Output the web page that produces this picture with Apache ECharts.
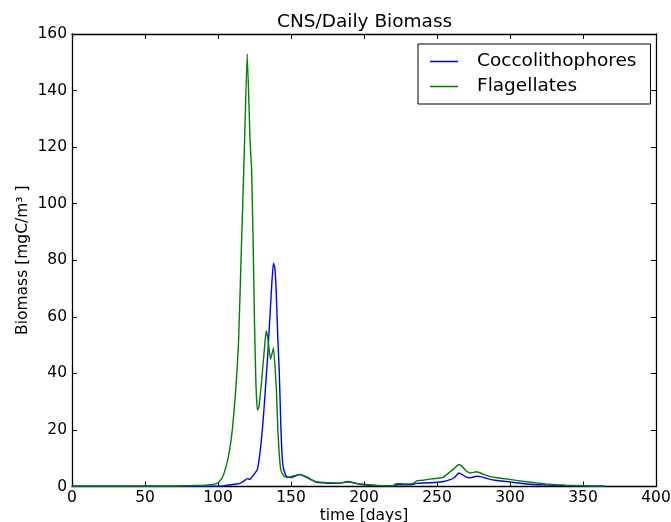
<!DOCTYPE html>
<html>
<head>
<meta charset="utf-8">
<script src="https://cdn.jsdelivr.net/npm/echarts@6/dist/echarts.min.js"></script>
<style>
  html, body { margin: 0; padding: 0; background: #fff; }
  #chart { width: 671px; height: 522px; }
</style>
</head>
<body>
<div id="chart"></div>
<script type="text/javascript">
// values (day, mgC/m3)
var greenDays = [0,10,20,30,40,50,60,70,80,90,95,100,103,106,108,110,112,114,116,118,120,122,123,124,125,126,127,128,130,132,133,134,136,138,140,141,142,143,145,147,150,156,160,167,177,183,189,195,200,209,215,220,222,228,234,236,240,245,250,254,259,262,265,267,270,273,277,282,286,290,300,311,318,325,332,339,350,358,365];
var greenVals = [0.2,0.2,0.2,0.2,0.2,0.2,0.2,0.2,0.3,0.4,0.6,1.3,3.2,8,13,21,33,50,84,118,153,122,112,88,58,36,27,28,38,50,55,53,45,49,34,20,11,6,3.8,3.2,3.5,4.3,3.6,1.7,1.3,1.2,1.6,1.1,0.8,0.4,0.3,0.3,1.0,0.9,1.1,2.0,2.2,2.6,2.9,3.2,5.2,6.5,7.8,7.2,5.5,4.8,5.2,4.3,3.6,3.2,2.5,1.7,1.3,0.9,0.6,0.4,0.3,0.2,0.2];

var blueDays = [0,20,40,60,80,100,105,110,115,118,120,122,123,125,127,128,129,130,131,132,134,135,136,137,138,139,140,141,142,143,144,145,147,150,156,160,167,177,183,189,195,200,209,220,222,228,234,236,245,254,259,262,265,267,270,273,277,280,286,290,300,311,325,339,350,365];
var blueVals = [0.05,0.05,0.05,0.05,0.05,0.1,0.3,0.7,1.1,2.0,2.8,2.5,3.2,4.5,6,9,13,18,24,31,46,55,64,73,79,77,67,52,40,22,10,6,3.5,3.2,4.2,3.4,1.6,1.1,1.1,1.8,1.0,0.6,0.3,0.2,0.6,0.6,0.8,1.1,1.3,1.7,2.4,3.2,4.8,4.3,3.3,3.1,3.6,3.5,2.6,2.2,1.6,0.9,0.5,0.3,0.15,0.1];

function pairs(xs, ys) {
	var out = [];
	for (var i = 0; i < xs.length; i++) out.push([xs[i], ys[i]]);
	return out;
}

var font = 'DejaVu Sans';
var myChart = echarts.init(document.getElementById('chart'));

var tickStyle = { show: true, inside: true, length: 5, lineStyle: { color: '#000', width: 1 } };
var lineAxis = { show: true, onZero: false, lineStyle: { color: '#000', width: 1.3 } };
var labelStyle = { fontFamily: font, fontSize: 15.5, color: '#000' };

var option = {
	animation: false,
	backgroundColor: '#fff',
	title: {
		text: 'CNS/Daily Biomass',
		left: 272, top: 8,
		textStyle: { fontFamily: font, fontSize: 18.5, fontWeight: 'normal', color: '#000' }
	},
	legend: {
		orient: 'vertical',
		left: 418, top: 44,
		padding: [8, 14, 8, 12],
		icon: 'rect',
		itemWidth: 28, itemHeight: 1.5, itemGap: 6,
		borderColor: '#000', borderWidth: 1, borderRadius: 0,
		backgroundColor: '#fff',
		textStyle: { fontFamily: font, fontSize: 18.5, color: '#000', padding: [0, 0, 0, 14] },
		data: ['Coccolithophores', 'Flagellates']
	},
	grid: { left: 72, right: 15, top: 34, bottom: 35.5, outerBoundsMode: 'none', containLabel: false },
	xAxis: [
		{
			type: 'value', min: 0, max: 400, interval: 50,
			name: 'time [days]', nameLocation: 'middle', nameGap: 21, nameMoveOverlap: false,
			nameTextStyle: labelStyle,
			axisLine: lineAxis, axisTick: tickStyle, splitLine: { show: false },
			axisLabel: { fontFamily: font, fontSize: 15.5, color: '#000', margin: 3 }
		},
		{
			type: 'value', min: 0, max: 400, interval: 50, position: 'top',
			axisLine: lineAxis, axisTick: tickStyle, splitLine: { show: false },
			axisLabel: { show: false }
		}
	],
	yAxis: [
		{
			type: 'value', min: 0, max: 160, interval: 20,
			name: 'Biomass [mgC/m\u00B3 ]', nameLocation: 'middle', nameGap: 41, nameMoveOverlap: false,
			nameTextStyle: labelStyle,
			axisLine: lineAxis, axisTick: tickStyle, splitLine: { show: false },
			axisLabel: { fontFamily: font, fontSize: 15.5, color: '#000', margin: 5 }
		},
		{
			type: 'value', min: 0, max: 160, interval: 20, position: 'right',
			axisLine: lineAxis, axisTick: tickStyle, splitLine: { show: false },
			axisLabel: { show: false }
		}
	],
	series: [
		{
			name: 'Coccolithophores',
			type: 'line', symbol: 'none', smooth: 0.15,
			lineStyle: { color: '#0000ff', width: 1.4 },
			itemStyle: { color: '#0000ff' },
			data: pairs(blueDays, blueVals)
		},
		{
			name: 'Flagellates',
			type: 'line', symbol: 'none', smooth: 0.15,
			lineStyle: { color: '#008000', width: 1.4 },
			itemStyle: { color: '#008000' },
			data: pairs(greenDays, greenVals)
		}
	]
};
myChart.setOption(option);
</script>
</body>
</html>
